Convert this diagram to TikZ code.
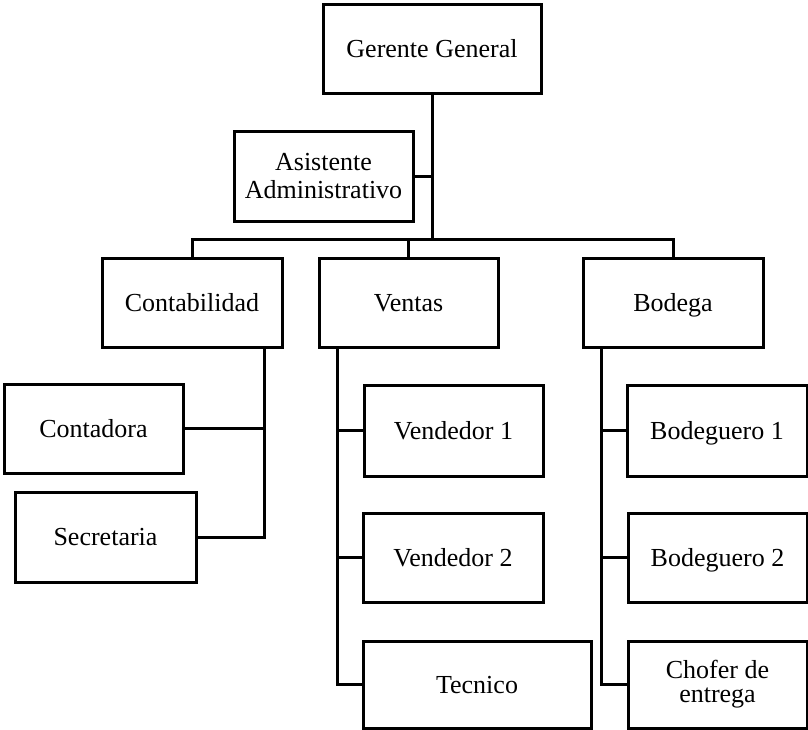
\documentclass[tikz,border=0pt]{standalone}
\usepackage{fontspec}
\setmainfont{Liberation Serif}
\begin{document}
\begin{tikzpicture}[x=1pt,y=-1pt,
  lw/.style={line width=3pt},
  orgbox/.style={draw,lw,rectangle,inner sep=0pt,align=center,
    font=\fontsize{26}{27.5}\selectfont},
  oneline/.style={orgbox,text height=17.2pt,text depth=0pt},
  link/.style={draw,lw,line join=miter}]
\useasboundingbox (0,0) rectangle (808,729);

% top level
\node[oneline,minimum width=218pt,minimum height=89pt] (gg) at (432,48.5) {Gerente General};
\node[orgbox,minimum width=179pt,minimum height=90pt] (asis) at (323.5,176) {Asistente\\Administrativo};

% departments
\node[oneline,minimum width=180pt,minimum height=89pt] (cont) at (192,302.5) {Contabilidad};
\node[oneline,minimum width=179pt,minimum height=89pt] (vent) at (408.5,302.5) {Ventas};
\node[oneline,minimum width=180pt,minimum height=89pt] (bod) at (673,302.5) {Bodega};

% accounting staff
\node[oneline,minimum width=179pt,minimum height=89pt] (contadora) at (93.5,428.5) {Contadora};
\node[oneline,minimum width=181pt,minimum height=90pt] (secre) at (105.5,537) {Secretaria};

% sales staff
\node[oneline,minimum width=179pt,minimum height=91pt] (v1) at (453.5,430.5) {Vendedor 1};
\node[oneline,minimum width=180pt,minimum height=89pt] (v2) at (453,557.5) {Vendedor 2};
\node[oneline,minimum width=228pt,minimum height=87pt] (tec) at (477,684.5) {Tecnico};

% warehouse staff
\node[oneline,minimum width=180pt,minimum height=91pt] (b1) at (717,430.5) {Bodeguero 1};
\node[oneline,minimum width=179pt,minimum height=89pt] (b2) at (717.5,557.5) {Bodeguero 2};
\node[orgbox,minimum width=179pt,minimum height=87pt] (chof) at (717.5,684.5) {Chofer de\\[-3.5pt]entrega};

% trunk positions
\coordinate (bus) at (432,239);
\coordinate (ctrunk) at (264,0);
\coordinate (vtrunk) at (337,0);
\coordinate (btrunk) at (601.5,0);

% general manager and assistant
\path[link] (gg.south) -- (bus);
\path[link] (asis.east) -- (asis.east -| gg.south);

% department bus
\path[link] (cont.north) |- (bod.north |- bus) -- (bod.north);
\path[link] (vent.north) -- (vent.north |- bus);

% accounting branch
\path[link] (cont.south -| ctrunk) -- (secre.east -| ctrunk) -- (secre.east);
\path[link] (contadora.east) -- (contadora.east -| ctrunk);

% sales branch
\path[link] (vent.south -| vtrunk) -- (tec.west -| vtrunk) -- (tec.west);
\path[link] (v1.west -| vtrunk) -- (v1.west);
\path[link] (v2.west -| vtrunk) -- (v2.west);

% warehouse branch
\path[link] (bod.south -| btrunk) -- (chof.west -| btrunk) -- (chof.west);
\path[link] (b1.west -| btrunk) -- (b1.west);
\path[link] (b2.west -| btrunk) -- (b2.west);
\end{tikzpicture}
\end{document}
